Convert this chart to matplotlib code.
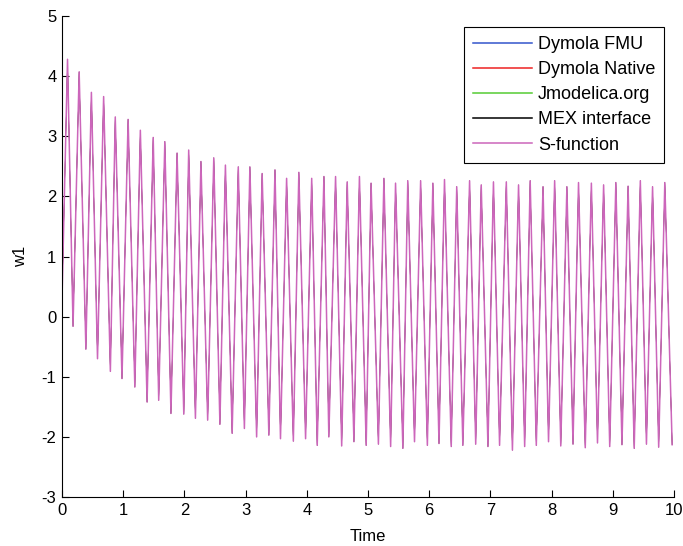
import numpy as np
import matplotlib
matplotlib.use("Agg")
from matplotlib import pyplot as plt

plt.rcParams['font.family'] = ['Liberation Sans', 'DejaVu Sans']
plt.rcParams['axes.unicode_minus'] = False

# w1 response: start value, then alternating peaks / troughs of each cycle
t_start, w_start = 0.0, 0.30

peak_t = [0.09, 0.28, 0.48, 0.68, 0.87, 1.08, 1.28, 1.49, 1.68, 1.88,
          2.07, 2.27, 2.48, 2.67, 2.88, 3.07, 3.27, 3.48, 3.67, 3.87,
          4.08, 4.28, 4.47, 4.66, 4.86, 5.05, 5.26, 5.45, 5.65, 5.86,
          6.06, 6.25, 6.45, 6.66, 6.85, 7.05, 7.26, 7.46, 7.65, 7.86,
          8.05, 8.25, 8.44, 8.65, 8.85, 9.05, 9.25, 9.45, 9.65, 9.85]
peak_w = [4.28, 4.07, 3.73, 3.66, 3.32, 3.28, 3.10, 2.98, 2.91, 2.72,
          2.77, 2.58, 2.64, 2.52, 2.49, 2.49, 2.38, 2.44, 2.30, 2.40,
          2.30, 2.33, 2.33, 2.24, 2.33, 2.22, 2.30, 2.22, 2.26, 2.26,
          2.22, 2.28, 2.16, 2.26, 2.19, 2.24, 2.24, 2.19, 2.26, 2.16,
          2.26, 2.16, 2.23, 2.22, 2.19, 2.23, 2.17, 2.26, 2.16, 2.23]

trough_t = [0.18, 0.39, 0.58, 0.79, 0.98, 1.19, 1.39, 1.58, 1.78, 1.99,
            2.18, 2.38, 2.58, 2.78, 2.98, 3.18, 3.38, 3.57, 3.78, 3.98,
            4.17, 4.36, 4.57, 4.77, 4.97, 5.17, 5.37, 5.57, 5.76, 5.97,
            6.16, 6.36, 6.55, 6.76, 6.96, 7.15, 7.36, 7.56, 7.75, 7.95,
            8.15, 8.35, 8.55, 8.75, 8.95, 9.15, 9.35, 9.55, 9.75, 9.97]
trough_w = [-0.16, -0.54, -0.70, -0.91, -1.03, -1.17, -1.42, -1.39, -1.61, -1.62,
            -1.69, -1.72, -1.79, -1.94, -1.86, -2.00, -1.97, -2.03, -2.07, -2.03,
            -2.14, -2.00, -2.15, -2.08, -2.14, -2.12, -2.16, -2.19, -2.08, -2.14,
            -2.11, -2.16, -2.14, -2.12, -2.16, -2.14, -2.22, -2.16, -2.14, -2.08,
            -2.15, -2.12, -2.18, -2.10, -2.16, -2.13, -2.19, -2.12, -2.17, -2.13]

series = ['Dymola FMU', 'Dymola Native', 'Jmodelica.org', 'MEX interface', 'S-function']
colors = ['#3355cc', '#ee2222', '#55cc33', '#000000', '#cc66bb']

t = np.empty(1 + 2 * len(peak_t))
w = np.empty_like(t)
t[0], w[0] = t_start, w_start
t[1::2], w[1::2] = peak_t, peak_w
t[2::2], w[2::2] = trough_t, trough_w

fig = plt.figure(figsize=(6.83, 5.46), dpi=100)
ax = fig.add_axes([0.0908, 0.0897, 0.896, 0.881])

# all solvers give the same curve; S-function is drawn last and covers the rest
for name, c in zip(series, colors):
    last = name == 'S-function'
    ax.plot(t, w, color=c, lw=1.1 if last else 0.3, label=name)

ax.set_xlim(0, 10)
ax.set_ylim(-3, 5)
ax.set_xticks(range(0, 11))
ax.set_yticks(range(-3, 6))
ax.spines['top'].set_visible(False)
ax.spines['right'].set_visible(False)
ax.tick_params(direction='in', length=5, labelsize=12, pad=4)
ax.set_xlabel('Time', fontsize=12, labelpad=8)
ax.set_ylabel('w1', fontsize=12, labelpad=10)

leg = ax.legend(loc='upper right', bbox_to_anchor=(0.984, 0.977), fontsize=13,
                handlelength=3.3, labelspacing=0.45, borderpad=0.5,
                handletextpad=0.3, fancybox=False, framealpha=1,
                edgecolor='black', borderaxespad=0)
leg.get_frame().set_linewidth(0.8)
for h in leg.get_lines():
    h.set_linewidth(1.1)

fig.savefig('out.png', dpi=100)
